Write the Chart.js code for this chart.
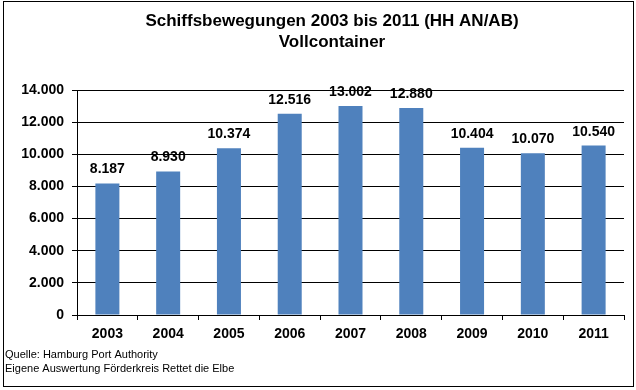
<!DOCTYPE html>
<html><head><meta charset="utf-8">
<script src="https://cdn.jsdelivr.net/npm/chart.js@4"></script>
<style>html,body{margin:0;padding:0;background:#fff;}#w{width:636px;height:390px;}</style>
</head><body><div id="w"><canvas id="c" width="636" height="390"></canvas></div>
<script>
const categories = ['2003','2004','2005','2006','2007','2008','2009','2010','2011'];
const values = [8187, 8930, 10374, 12516, 13002, 12880, 10404, 10070, 10540];
const yTicks = [0, 2000, 4000, 6000, 8000, 10000, 12000, 14000];
const titleLines = ['Schiffsbewegungen 2003 bis 2011 (HH AN/AB)', 'Vollcontainer'];
const footerLines = ['Quelle: Hamburg Port Authority', 'Eigene Auswertung Förderkreis Rettet die Elbe'];

function fmt(v){ return String(v).replace(/\B(?=(\d{3})+(?!\d))/g, '.'); }

const deco = {
  id: 'deco',
  afterDraw(chart){
    const ctx = chart.ctx;
    ctx.save();
    ctx.strokeStyle = '#000'; ctx.lineWidth = 1;
    ctx.strokeRect(3.5, 1.5, 630, 385);
    ctx.fillStyle = '#000';
    ctx.textAlign = 'center'; ctx.textBaseline = 'middle';
    ctx.font = 'bold 17px "Liberation Sans", Arial, sans-serif';
    ctx.fillText(titleLines[0], 332, 21);
    ctx.fillText(titleLines[1], 332, 42);
    ctx.textAlign = 'left';
    ctx.font = '11px "Liberation Sans", Arial, sans-serif';
    ctx.fillText(footerLines[0], 5, 355);
    ctx.fillText(footerLines[1], 5, 369);
    const meta = chart.getDatasetMeta(0);
    ctx.textAlign = 'center'; ctx.textBaseline = 'alphabetic';
    ctx.font = 'bold 14px "Liberation Sans", Arial, sans-serif';
    meta.data.forEach((bar, i) => {
      ctx.fillText(fmt(values[i]), bar.x, bar.y - 10);
    });
    ctx.restore();
  }
};

new Chart(document.getElementById('c'), {
  type: 'bar',
  data: { labels: categories, datasets: [{ data: values, backgroundColor: '#4F81BD', barPercentage: 0.395, categoryPercentage: 1 }] },
  options: {
    responsive: false, animation: false,
    devicePixelRatio: 1,
    layout: { padding: { top: 90, left: 0, right: 12, bottom: 0 } },
    plugins: { legend: { display: false }, tooltip: { enabled: false }, title: { display: false } },
    scales: {
      x: {
        grid: { display: true, drawOnChartArea: false, offset: true, color: '#000', tickLength: 5 },
        border: { display: true, color: '#000' },
        ticks: { color: '#000', font: { family: '"Liberation Sans", Arial, sans-serif', size: 14, weight: 'bold' }, padding: 6, maxRotation: 0 },
        afterFit(s){ s.height = 75; }
      },
      y: {
        min: 0, max: 14000,
        afterBuildTicks(s){ s.ticks = yTicks.map(v => ({ value: v })); },
        grid: { color: '#000', tickLength: 5 },
        border: { display: true, color: '#000' },
        ticks: { color: '#000', font: { family: '"Liberation Sans", Arial, sans-serif', size: 14, weight: 'bold' }, padding: 8, callback: v => fmt(v) },
        afterFit(s){ s.width = 77; }
      }
    }
  },
  plugins: [deco]
});
</script></body></html>
